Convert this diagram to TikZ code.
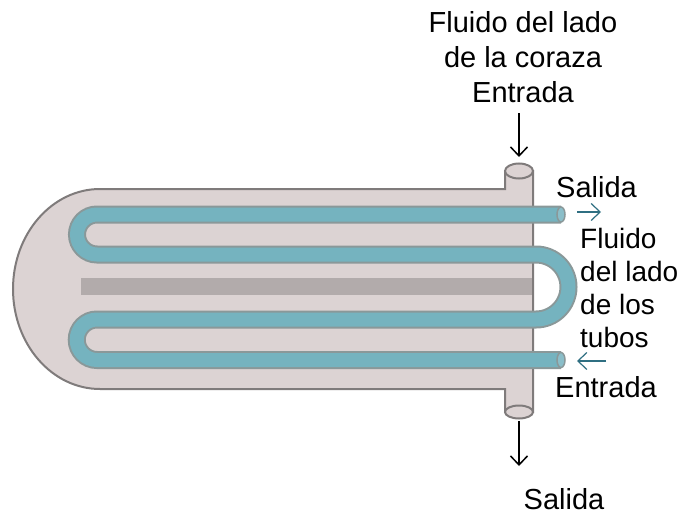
\documentclass[tikz,border=0pt]{standalone}
\usepackage{fontspec}
\setmainfont{Liberation Sans}
\usepackage{tikz}
\usetikzlibrary{
        arrows.meta,
        positioning,
        shapes.geometric
    }
\definecolor{shellfill}{HTML}{DCD3D3}
\definecolor{shellline}{HTML}{7F7B7B}
\definecolor{bafflefill}{HTML}{B2ABAB}
\definecolor{tubefill}{HTML}{75B3BF}
\definecolor{tubeline}{HTML}{8A9899}
\definecolor{flowline}{HTML}{2F6F82}
\tikzset{>={Straight Barb[length=9pt,width=17pt]},x=1pt,y=-1pt}
\tikzset{label text/.style={font=\fontsize{29}{35}\selectfont,inner sep=0pt,align=center}}
\tikzset{nozzle end/.style={draw=shellline,fill=shellfill,line width=2pt,ellipse,inner sep=0pt,minimum width=28pt}}
\tikzset{tube end/.style={draw=tubeline,fill=tubefill!85!white,line width=1.5pt,ellipse,inner sep=0pt,minimum width=8pt,minimum height=15pt}}
\tikzset{flow arrow/.style={->,flowline,line width=1.2pt}}
\begin{document}
\begin{tikzpicture}
                \useasboundingbox (0,0) rectangle (681,514);
                % shell
                \draw[draw=shellline,fill=shellfill,line width=2pt]
                    (100,189) -- (505,189) -- (505,171) -- (533,171) -- (533,412)
                    -- (505,412) -- (505,389) -- (100,389)
                    arc[start angle=90,end angle=270,x radius=87,y radius=100] -- cycle;
                \fill[bafflefill] (81,278) rectangle (532,295);
                % tube
                \draw[tubeline,line width=2pt,double=tubefill,double distance=14pt]
                    (561,214.5) -- (97,214.5)
                    arc[start angle=270,end angle=90,radius=20] -- (536,254.5)
                    arc[start angle=270,end angle=450,radius=32.5] -- (97,319.5)
                    arc[start angle=270,end angle=90,radius=20.25] -- (561,360);
                \node[tube end] (tubeout) at (561,214.5) {};
                \node[tube end] (tubein) at (561,360) {};
                \node[nozzle end,minimum height=15pt] (shellin) at (519,171) {};
                \node[nozzle end,minimum height=13pt] (shellout) at (519,412) {};
                % labels
                \node[label text] (shelltitle) at (523,57) {Fluido del lado\\de la coraza\\Entrada};
                \node[label text,anchor=west] (tubeoutlabel) at (556,187) {Salida};
                \node[label text,anchor=west,align=left,font=\fontsize{28}{33.3}\selectfont] (tubetitle) at (580,288) {Fluido\\del lado\\de los\\tubos};
                \node[label text,anchor=west] (tubeinlabel) at (555,387) {Entrada};
                \node[label text] (shelloutlabel) at (564,499) {Salida};
                % arrows
                \coordinate (a0) at (519,113);
                \coordinate (a1) at (519,157);
                \coordinate (b0) at (519,421);
                \coordinate (b1) at (519,466);
                \coordinate (c0) at (577,212);
                \coordinate (c1) at (601,212);
                \coordinate (d0) at (606,361);
                \coordinate (d1) at (577,361);
                \path[->,line width=1.5pt]
                    (a0)  edge (a1)
                    (b0)  edge (b1)
                    ;
                \path[flow arrow]
                    (c0)  edge (c1)
                    (d0)  edge (d1)
                    ;
            \end{tikzpicture}
\end{document}
